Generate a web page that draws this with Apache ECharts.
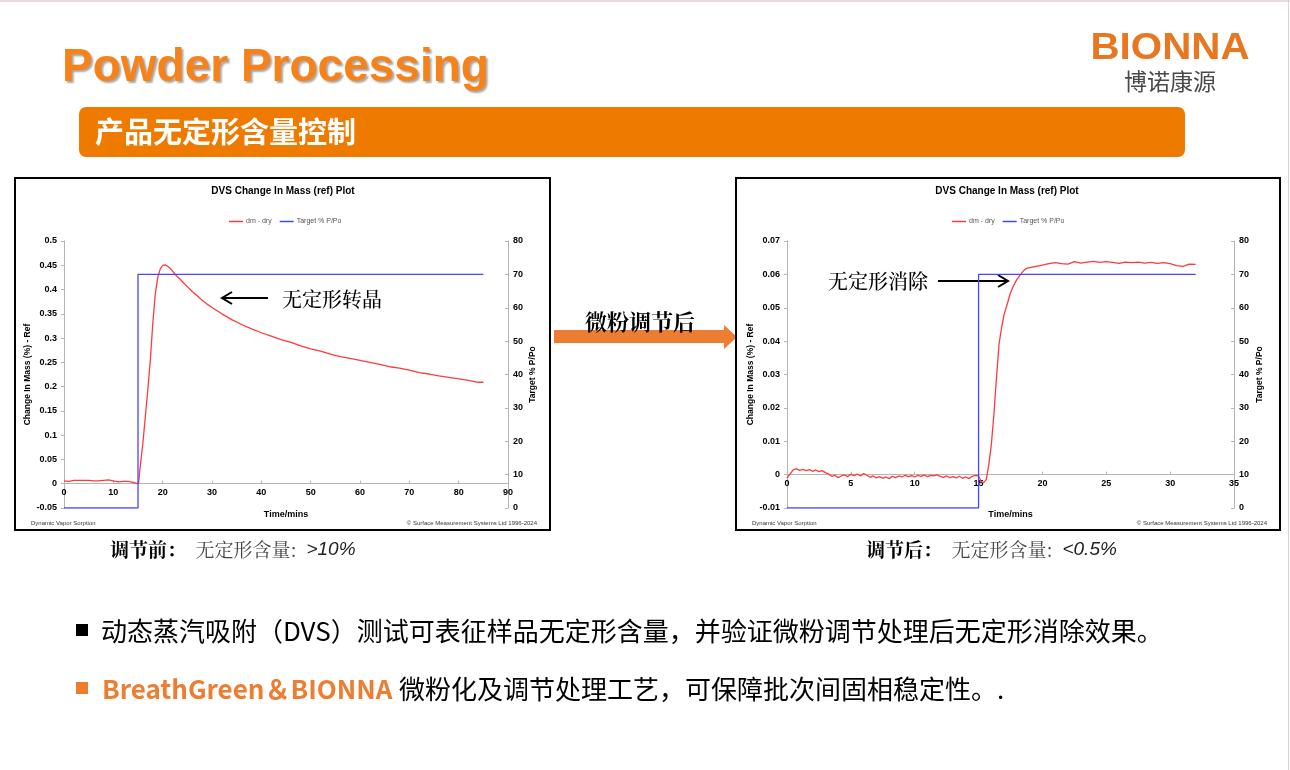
<!DOCTYPE html>
<html lang="zh">
<head>
<meta charset="UTF-8">
<title>Powder Processing - DVS</title>
<script src="https://cdn.jsdelivr.net/npm/echarts@6/dist/echarts.min.js"></script>
<style>
  html, body { margin: 0; padding: 0; background: #fff; }
  #main { width: 1290px; height: 770px; }
</style>
</head>
<body>
<div id="main"></div>
<script>
// ---- data ----
// before treatment (left plot)
var leftTime = [0, 1, 2, 3, 4, 5, 6, 7, 8, 9, 10, 11, 12, 13, 14, 14.6, 15.1,
  15.5, 16, 16.5, 17, 17.5, 18, 18.5, 19, 19.5, 20, 20.5, 21, 21.5, 22, 22.5, 23, 23.5,
  24, 25, 26, 27, 28, 29, 30, 32, 34, 36, 38, 40, 42, 44, 46, 48, 50, 52, 54, 56, 58,
  60, 62, 64, 66, 68, 70, 72, 74, 76, 78, 80, 82, 84, 85];
var leftMass = [0.006, 0.005, 0.007, 0.007, 0.007, 0.007, 0.006, 0.006, 0.007, 0.008, 0.006, 0.004, 0.005, 0.005, 0.003, 0.001, 0.0,
  0.04, 0.085, 0.14, 0.195, 0.255, 0.33, 0.39, 0.425, 0.442, 0.45, 0.451, 0.448, 0.444, 0.438, 0.432, 0.426, 0.422,
  0.416, 0.406, 0.396, 0.387, 0.378, 0.37, 0.363, 0.35, 0.338, 0.328, 0.319, 0.311, 0.304, 0.297, 0.291, 0.284, 0.278, 0.273, 0.267, 0.262, 0.258,
  0.254, 0.25, 0.246, 0.241, 0.238, 0.234, 0.229, 0.226, 0.222, 0.219, 0.216, 0.213, 0.209, 0.209];
var leftTargetTime = [0, 15, 15, 85];
var leftTargetRh = [0, 0, 70, 70];

// after treatment (right plot)
var rightTime = [0, 0.25, 0.5, 0.75, 1, 1.25, 1.5, 1.75, 2, 2.25, 2.5, 2.75, 3, 3.25, 3.5, 3.75,
  4, 4.25, 4.5, 4.75, 5, 5.25, 5.5, 5.75, 6, 6.25, 6.5, 6.75, 7, 7.25, 7.5, 7.75,
  8, 8.25, 8.5, 8.75, 9, 9.25, 9.5, 9.75, 10, 10.25, 10.5, 10.75, 11, 11.25, 11.5, 11.75,
  12, 12.25, 12.5, 12.75, 13, 13.25, 13.5, 13.75, 14, 14.25, 14.5, 14.75, 15,
  15.2, 15.4, 15.6, 15.8, 16, 16.2, 16.4, 16.6, 16.8, 17, 17.25, 17.5, 17.75, 18, 18.25, 18.5, 18.75,
  19, 19.5, 20, 20.5, 21, 21.5, 22, 22.5, 23, 23.5, 24, 24.5, 25, 25.5, 26, 26.5, 27, 27.5,
  28, 28.5, 29, 29.5, 30, 30.5, 31, 31.5, 32];
var rightMass = [-0.0010, 0.0002, 0.0015, 0.0017, 0.0013, 0.0016, 0.0012, 0.0015, 0.0010, 0.0014, 0.0009, 0.0012, 0.0006, 0.0002, -0.0005, -0.0002,
  -0.0009, -0.0004, -0.0001, -0.0006, 0.0001, -0.0003, 0.0002, -0.0004, 0.0003, -0.0002, -0.0008, -0.0004, -0.0010, -0.0006, -0.0011, -0.0007,
  -0.0012, -0.0005, -0.0009, -0.0004, -0.0007, -0.0002, -0.0006, -0.0003, -0.0007, -0.0002, -0.0005, -0.0001, -0.0006, -0.0002, -0.0004, -0.0001,
  -0.0005, -0.0008, -0.0004, -0.0009, -0.0006, -0.0010, -0.0005, -0.0011, -0.0007, -0.0012, -0.0005, -0.0002, -0.0004,
  -0.0020, -0.0024, -0.0015, 0.0030, 0.0090, 0.0180, 0.0290, 0.0390, 0.0440, 0.0480, 0.0512, 0.0545, 0.0567, 0.0585, 0.0598, 0.0610, 0.0618,
  0.0620, 0.0624, 0.0628, 0.0632, 0.0635, 0.0632, 0.0631, 0.0638, 0.0634, 0.0637, 0.0639, 0.0636, 0.0638, 0.0636, 0.0633, 0.0637, 0.0635, 0.0637,
  0.0634, 0.0636, 0.0633, 0.0635, 0.0632, 0.0626, 0.0624, 0.0631, 0.0630];
var rightTargetTime = [0, 15, 15, 32];
var rightTargetRh = [0, 0, 70, 70];

var seriesNames = ['dm - dry', 'Target % P/Po'];
var leftMassRange = [-0.05, 0.5, 0.05];
var rightMassRange = [-0.01, 0.07, 0.01];

function zip(xs, ys) {
  return xs.map(function (x, i) { return [x, ys[i]]; });
}

var RED = '#FF3A3A';
var BLUE = '#4646FF';
var AXIS = '#b5b5b5';
var SANS = 'Arial, "Liberation Sans", sans-serif';
var CJK = '"Noto Sans CJK SC", "Microsoft YaHei", sans-serif';
var SERIF = '"Noto Serif CJK SC", "Source Han Serif SC", SimSun, serif';
var GRID_H = 267;

// lift the time axis from the grid bottom up to the mass = 0 level
function zeroLift(range) {
  return -(0 - range[0]) / (range[1] - range[0]) * GRID_H;
}

function xAxisFor(grid, max, interval, range, gap) {
  return {
    type: 'value', gridIndex: grid, min: 0, max: max, interval: interval,
    position: 'bottom', offset: zeroLift(range),
    name: 'Time/mins', nameLocation: 'middle', nameGap: gap,
    nameTextStyle: { fontFamily: SANS, fontWeight: 'bold', fontSize: 9, color: '#000' },
    axisLine: { onZero: false, lineStyle: { color: AXIS } },
    axisTick: { inside: true, length: 3, lineStyle: { color: AXIS } },
    axisLabel: { fontFamily: SANS, fontWeight: 'bold', fontSize: 9, color: '#000', margin: 4 },
    splitLine: { show: false }
  };
}

function massAxis(grid, range, gap) {
  return {
    type: 'value', gridIndex: grid, position: 'left', min: range[0], max: range[1], interval: range[2],
    name: 'Change In Mass (%) - Ref', nameLocation: 'middle', nameGap: gap,
    nameTextStyle: { fontFamily: SANS, fontWeight: 'bold', fontSize: 8.5, color: '#000' },
    axisLine: { show: true, lineStyle: { color: AXIS } },
    axisTick: { show: true, length: 3, lineStyle: { color: AXIS } },
    axisLabel: {
      fontFamily: SANS, fontWeight: 'bold', fontSize: 9, color: '#000', margin: 7,
      formatter: function (v) { return String(+v.toFixed(2)); }
    },
    splitLine: { show: false }
  };
}

function rhAxis(grid, gap) {
  return {
    type: 'value', gridIndex: grid, position: 'right', min: 0, max: 80, interval: 10,
    name: 'Target % P/Po', nameLocation: 'middle', nameGap: gap,
    nameTextStyle: { fontFamily: SANS, fontWeight: 'bold', fontSize: 8.5, color: '#000' },
    axisLine: { show: true, lineStyle: { color: AXIS } },
    axisTick: { show: true, inside: true, length: 3, lineStyle: { color: AXIS } },
    axisLabel: { fontFamily: SANS, fontWeight: 'bold', fontSize: 9, color: '#000', margin: 5 },
    splitLine: { show: false }
  };
}

function legendAt(left) {
  return {
    left: left, top: 218, padding: 0, itemGap: 8, itemWidth: 14, itemHeight: 1.5,
    icon: 'rect', selectedMode: false,
    data: seriesNames,
    textStyle: { fontFamily: SANS, fontSize: 7, color: '#555', padding: [0, 0, 0, -2] }
  };
}

function lineSeries(name, data, xi, yi, color) {
  return {
    name: name, type: 'line', xAxisIndex: xi, yAxisIndex: yi, data: data,
    showSymbol: false, symbol: 'none',
    lineStyle: { color: color, width: 1.3 }, itemStyle: { color: color }
  };
}

function plotFrame(x, w, cx, titleY) {
  return [
    { type: 'rect', shape: { x: x, y: 178, width: w, height: 352 },
      style: { fill: 'none', stroke: '#000', lineWidth: 2 } },
    { type: 'text', x: cx, y: titleY,
      style: { text: 'DVS Change In Mass (ref) Plot', fill: '#000', font: 'bold 10px ' + SANS,
               textAlign: 'center', textVerticalAlign: 'middle' } },
    { type: 'text', x: x + 16, y: 523,
      style: { text: 'Dynamic Vapor Sorption', fill: '#333', font: '6px ' + SANS,
               textAlign: 'left', textVerticalAlign: 'middle' } },
    { type: 'text', x: x + w - 13, y: 523,
      style: { text: '\u00A9 Surface Measurement Systems Ltd 1996-2024', fill: '#333', font: '6px ' + SANS,
               textAlign: 'right', textVerticalAlign: 'middle' } }
  ];
}

function arrowHead(tx, ty, dir) {
  return { type: 'polyline', shape: { points: [[tx - dir * 10, ty - 6], [tx, ty], [tx - dir * 10, ty + 6]] },
           style: { stroke: '#000', lineWidth: 2, fill: 'none' } };
}

function caption(x, label, amount) {
  return { type: 'text', x: x, y: 550,
    style: {
      text: '{b|' + label + '  }{n|无定形含量:  }{i|' + amount + '}', textAlign: 'left', textVerticalAlign: 'middle',
      rich: {
        b: { fontFamily: SERIF, fontWeight: 'bold', fontSize: 19, fill: '#000' },
        n: { fontFamily: SERIF, fontSize: 19, fill: '#444' },
        i: { fontFamily: SANS, fontStyle: 'italic', fontSize: 19, fill: '#222' }
      } } };
}

var graphics = [
  { type: 'rect', shape: { x: 0, y: 0, width: 1290, height: 2 }, style: { fill: '#E9DCE1' } },
  { type: 'rect', shape: { x: 1288, y: 0, width: 1, height: 770 }, style: { fill: '#d4d4d4' } },
  { type: 'text', x: 62, y: 45,
    style: { text: 'Powder Processing', fill: '#F7821A', font: 'bold 46px "Liberation Sans", Arial, sans-serif',
             textAlign: 'left', textVerticalAlign: 'top',
             textShadowColor: 'rgba(0,0,0,0.35)', textShadowBlur: 2, textShadowOffsetX: 2, textShadowOffsetY: 2 } },
  { type: 'text', x: 1170, y: 49, scaleX: 1.09,
    style: { text: 'BIONNA', fill: '#E87722', font: 'bold 37px "Liberation Sans", Arial, sans-serif',
             textAlign: 'center', textVerticalAlign: 'middle' } },
  { type: 'text', x: 1170, y: 81,
    style: { text: '博诺康源', fill: '#4a4a4a', font: '23px ' + CJK, textAlign: 'center', textVerticalAlign: 'middle' } },
  { type: 'rect', shape: { x: 79, y: 107, width: 1106, height: 50, r: 7 }, style: { fill: '#EF7A00' } },
  { type: 'text', x: 95, y: 132,
    style: { text: '产品无定形含量控制', fill: '#fff', font: 'bold 29px ' + CJK, textAlign: 'left', textVerticalAlign: 'middle' } },

  // annotations inside the plots
  { type: 'line', shape: { x1: 268, y1: 298, x2: 223, y2: 298 }, style: { stroke: '#000', lineWidth: 2 } },
  arrowHead(222, 298, -1),
  { type: 'text', x: 282, y: 299,
    style: { text: '无定形转晶', fill: '#000', font: '500 20px ' + SERIF, textAlign: 'left', textVerticalAlign: 'middle' } },
  { type: 'line', shape: { x1: 938, y1: 281, x2: 1007, y2: 281 }, style: { stroke: '#000', lineWidth: 2 } },
  arrowHead(1008, 281, 1),
  { type: 'text', x: 828, y: 281,
    style: { text: '无定形消除', fill: '#000', font: '500 20px ' + SERIF, textAlign: 'left', textVerticalAlign: 'middle' } },

  // arrow between the plots
  { type: 'polygon',
    shape: { points: [[554, 330], [724, 330], [724, 325], [737, 337], [724, 349], [724, 343], [554, 343]] },
    style: { fill: '#ED7D31' } },
  { type: 'text', x: 640, y: 322,
    style: { text: '微粉调节后', fill: '#000', font: 'bold 22px ' + SERIF, textAlign: 'center', textVerticalAlign: 'middle' } },

  // captions under the plots
  caption(110, '调节前：', '>10%'),
  caption(866, '调节后：', '<0.5%'),

  // bullet lines
  { type: 'rect', shape: { x: 76, y: 624, width: 12, height: 12 }, style: { fill: '#000' } },
  { type: 'text', x: 101, y: 631,
    style: { text: '动态蒸汽吸附（DVS）测试可表征样品无定形含量，并验证微粉调节处理后无定形消除效果。',
             fill: '#000', font: '26px ' + CJK, textAlign: 'left', textVerticalAlign: 'middle' } },
  { type: 'rect', shape: { x: 76, y: 682, width: 12, height: 12 }, style: { fill: '#ED7D31' } },
  { type: 'text', x: 102, y: 689,
    style: {
      text: '{o|BreathGreen＆BIONNA}  {k|微粉化及调节处理工艺，可保障批次间固相稳定性。.}',
      textAlign: 'left', textVerticalAlign: 'middle',
      rich: {
        o: { fontFamily: CJK, fontWeight: 'bold', fontSize: 26, fill: '#ED7D31' },
        k: { fontFamily: CJK, fontSize: 26, fill: '#000' }
      } } }
].concat(plotFrame(15, 535, 283, 191), plotFrame(736, 544, 1007, 191));

var chart = echarts.init(document.getElementById('main'));
chart.setOption({
  backgroundColor: '#fff',
  animation: false,
  grid: [
    { left: 64, top: 241, width: 444, height: GRID_H },
    { left: 787, top: 241, width: 447, height: GRID_H }
  ],
  xAxis: [xAxisFor(0, 90, 10, leftMassRange, 26), xAxisFor(1, 35, 5, rightMassRange, 35)],
  yAxis: [
    massAxis(0, leftMassRange, 25),
    rhAxis(0, 20),
    massAxis(1, rightMassRange, 27),
    rhAxis(1, 21)
  ],
  legend: [legendAt(229), legendAt(952)],
  series: [
    lineSeries(seriesNames[0], zip(leftTime, leftMass), 0, 0, RED),
    lineSeries(seriesNames[1], zip(leftTargetTime, leftTargetRh), 0, 1, BLUE),
    lineSeries(seriesNames[0], zip(rightTime, rightMass), 1, 2, RED),
    lineSeries(seriesNames[1], zip(rightTargetTime, rightTargetRh), 1, 3, BLUE)
  ],
  graphic: graphics
});
</script>
</body>
</html>
